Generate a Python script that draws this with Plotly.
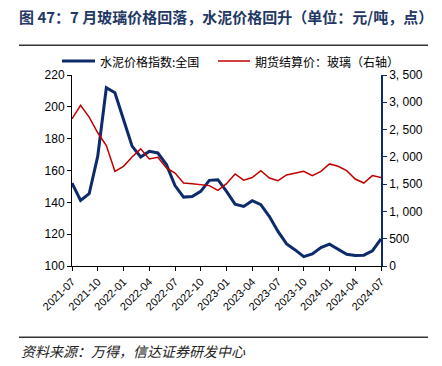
import plotly.graph_objects as go

months = ["2021-07", "2021-08", "2021-09", "2021-10", "2021-11", "2021-12",
          "2022-01", "2022-02", "2022-03", "2022-04", "2022-05", "2022-06",
          "2022-07", "2022-08", "2022-09", "2022-10", "2022-11", "2022-12",
          "2023-01", "2023-02", "2023-03", "2023-04", "2023-05", "2023-06",
          "2023-07", "2023-08", "2023-09", "2023-10", "2023-11", "2023-12",
          "2024-01", "2024-02", "2024-03", "2024-04", "2024-05", "2024-06",
          "2024-07"]

cement_index = [152.1, 141.2, 145.4, 169.0, 212.0, 208.9, 192.0, 175.3, 168.5, 172.0,
                171.0, 163.7, 150.5, 143.3, 143.7, 146.9, 153.8, 154.2, 146.9, 138.9,
                137.4, 141.0, 138.5, 131.1, 121.7, 113.9, 110.1, 105.9, 107.6, 111.6,
                113.7, 110.8, 107.4, 106.6, 106.8, 109.5, 117.0]

glass_futures = [2698, 2943, 2727, 2441, 2208, 1735, 1826, 1998, 2147, 1963,
                 1992, 1797, 1703, 1520, 1509, 1496, 1473, 1385, 1509, 1686,
                 1572, 1621, 1746, 1612, 1563, 1668, 1704, 1735, 1656, 1735,
                 1870, 1827, 1747, 1594, 1521, 1656, 1622]

series_names = ["水泥价格指数:全国", "期货结算价：玻璃（右轴）"]
x_tick_labels = months[::3]
left_ticks = [100, 120, 140, 160, 180, 200, 220]
right_ticks = [0, 500, 1000, 1500, 2000, 2500, 3000, 3500]
right_tick_text = ["0", "500", "1, 000", "1, 500", "2, 000", "2, 500", "3, 000", "3, 500"]

title_text = "图 47：7 月玻璃价格回落，水泥价格回升（单位：元/吨，点）"
source_text = "资料来源：万得，信达证券研发中心"

NAVY = "#0D2B6B"
RED = "#C00000"
FONT = "Liberation Sans, Noto Sans CJK SC, sans-serif"
CJK = "Noto Sans CJK SC, sans-serif"

fig = go.Figure()
fig.add_trace(go.Scatter(x=months, y=cement_index, name=series_names[0],
                         mode="lines", line=dict(color=NAVY, width=3)))
fig.add_trace(go.Scatter(x=months, y=glass_futures, name=series_names[1],
                         mode="lines", line=dict(color=RED, width=1.5), yaxis="y2"))

W, H = 442, 366
L, R, T, B = 72, 61, 75, 100
pw, ph = W - L - R, H - T - B

def px_x(x):
    return (x - L) / pw

def px_y(y):
    return (H - B - y) / ph

fig.update_layout(
    width=W, height=H,
    margin=dict(l=L, r=R, t=T, b=B, autoexpand=False),
    paper_bgcolor="white", plot_bgcolor="white",
    font=dict(family=FONT, size=11, color="#000"),
    showlegend=False,
    xaxis=dict(type="category", tickmode="array", tickvals=x_tick_labels, ticktext=x_tick_labels,
               tickangle=-45, ticks="outside", ticklen=4, tickcolor="#000",
               showline=True, linecolor="#000", linewidth=1, showgrid=False,
               range=[0, len(months) - 1], tickfont=dict(size=11)),
    yaxis=dict(range=[100, 220], tickvals=left_ticks, ticks="outside", ticklen=4,
               tickcolor="#000", showline=True, linecolor="#000", linewidth=1,
               showgrid=False, zeroline=False, tickfont=dict(size=12)),
    yaxis2=dict(range=[0, 3500], tickvals=right_ticks, ticktext=right_tick_text,
                overlaying="y", side="right", ticks="outside", ticklen=4,
                tickcolor=NAVY, showline=True, linecolor=NAVY, linewidth=1.5,
                showgrid=False, zeroline=False, tickfont=dict(size=12)),
    title=dict(text="<b>" + title_text + "</b>", x=19 / W, xanchor="left", xref="container",
               y=1 - 18 / H, yanchor="middle", yref="container",
               font=dict(size=15, color="#1F3864", family=CJK)),
)

shapes = []
# rules under title and above source
for yy in (45, 337):
    shapes.append(dict(type="line", xref="paper", yref="paper", layer="above",
                       x0=px_x(19), x1=px_x(428), y0=px_y(yy), y1=px_y(yy),
                       line=dict(color="#333333", width=1)))

# legend (drawn manually to keep it on one row)
legend_items = [(62, 95, 98, NAVY, 3, series_names[0]),
                (218, 250, 253, RED, 1.5, series_names[1])]
for x0, x1, xt, col, w, name in legend_items:
    shapes.append(dict(type="line", xref="paper", yref="paper", x0=px_x(x0), x1=px_x(x1),
                       y0=px_y(61), y1=px_y(61), line=dict(color=col, width=w)))
    fig.add_annotation(text=name, xref="paper", yref="paper", x=px_x(xt), y=px_y(61),
                       xanchor="left", yanchor="middle", showarrow=False,
                       font=dict(size=12, color="#000", family=CJK))
fig.update_layout(shapes=shapes)

fig.add_annotation(text=source_text, xref="paper", yref="paper", x=px_x(19), y=px_y(351),
                   xanchor="left", yanchor="middle", showarrow=False,
                   font=dict(size=14, color="#222", family=CJK, style="italic"))

post = (
    "document.body.style.margin='0';"
    "[44.5, 336.5].forEach(function(t){"
    "var d=document.createElement('div');"
    "d.style.cssText='position:absolute;left:19px;top:'+t+'px;width:409px;height:1px;"
    "background:#333;pointer-events:none;z-index:10;';"
    "document.body.appendChild(d);});"
)

fig.write_html("out.html", config={"displayModeBar": False}, post_script=post)
